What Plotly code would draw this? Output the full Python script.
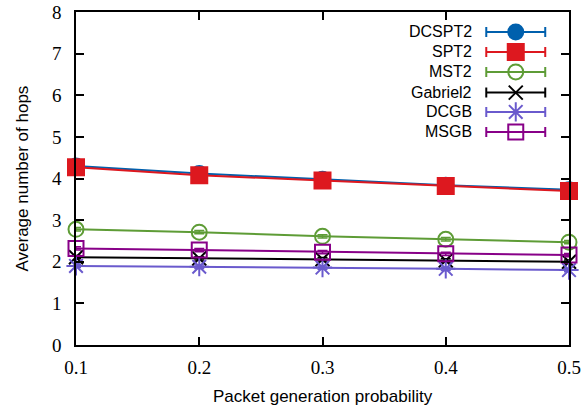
import plotly.graph_objects as go

x_vals = [0.1, 0.2, 0.3, 0.4, 0.5]
series_names = ["DCSPT2", "SPT2", "MST2", "Gabriel2", "DCGB", "MSGB"]
dcspt2 = [4.30, 4.12, 3.98, 3.84, 3.73]
spt2 = [4.27, 4.08, 3.95, 3.82, 3.70]
mst2 = [2.78, 2.71, 2.61, 2.54, 2.47]
gabriel2 = [2.11, 2.08, 2.06, 2.03, 2.00]
dcgb = [1.90, 1.88, 1.86, 1.83, 1.80]
msgb = [2.32, 2.28, 2.23, 2.19, 2.16]
err = [0.04, 0.04, 0.04, 0.04, 0.04]
x_ticks = [0.1, 0.2, 0.3, 0.4, 0.5]
y_ticks = [0, 1, 2, 3, 4, 5, 6, 7, 8]

series_values = [dcspt2, spt2, mst2, gabriel2, dcgb, msgb]
colors = ["#0060ad", "#dd181f", "#5e9c36", "#000000", "#6a5acd", "#880088"]
symbols = ["circle", "square", "circle-open", "x-thin-open", "asterisk-open", "square-open"]
sizes = [15, 16, 15, 14, 16, 15]

fig = go.Figure()
for name, vals, c, s, sz in zip(series_names, series_values, colors, symbols, sizes):
    fig.add_trace(go.Scatter(
        x=x_vals, y=vals, mode="lines+markers", name=name,
        line=dict(color=c, width=2),
        marker=dict(symbol=s, size=sz, color=c, line=dict(color=c, width=2)),
        error_y=dict(type="data", array=err, color=c, thickness=1.5, width=5),
        showlegend=False, cliponaxis=False,
    ))

# gnuplot-style key drawn on an overlay axis (0..1 in plot-area units)
row_y = [0.940, 0.880, 0.820, 0.758, 0.700, 0.640]
for i, (name, c, s, sz) in enumerate(zip(series_names, colors, symbols, sizes)):
    fig.add_trace(go.Scatter(
        x=[0.892], y=[row_y[i]], xaxis="x2", yaxis="y2", mode="markers",
        marker=dict(symbol=s, size=sz, color=c, line=dict(color=c, width=2)),
        error_x=dict(type="data", array=[0.0598], color=c, thickness=2, width=5),
        showlegend=False, hoverinfo="skip",
    ))
    fig.add_annotation(x=0.807, y=row_y[i], xref="x2", yref="y2", text=name,
                       showarrow=False, xanchor="right", yanchor="middle",
                       font=dict(family="Liberation Sans", size=16, color="black"))

fig.add_annotation(x=-0.1095, y=0.5, xref="paper", yref="paper",
                   text="Average number of hops", textangle=-90, showarrow=False,
                   xanchor="center", yanchor="middle",
                   font=dict(family="Liberation Sans", size=17, color="black"))
fig.add_annotation(x=0.5, y=-0.156, xref="paper", yref="paper",
                   text="Packet generation probability", showarrow=False,
                   xanchor="center", yanchor="middle",
                   font=dict(family="Liberation Sans", size=17, color="black"))

axis_common = dict(showline=True, linecolor="black", linewidth=1.5, mirror="ticks",
                   ticks="inside", ticklen=8, tickwidth=1.5, tickcolor="black",
                   showgrid=False, zeroline=False, automargin=False,
                   ticklabeloverflow="allow",
                   tickfont=dict(family="Liberation Serif", size=19, color="black"))

fig.update_layout(
    width=587, height=409,
    margin=dict(l=76, r=18, t=12, b=64),
    plot_bgcolor="white", paper_bgcolor="white",
    xaxis=dict(range=[0.1, 0.5], tickvals=x_ticks, ticktext=[str(t) for t in x_ticks],
               ticklabelstandoff=4, **axis_common),
    yaxis=dict(range=[0, 8], tickvals=y_ticks, ticktext=[str(t) for t in y_ticks],
               ticklabelstandoff=9, **axis_common),
    xaxis2=dict(range=[0, 1], overlaying="x", visible=False),
    yaxis2=dict(range=[0, 1], overlaying="y", visible=False),
)

fig.write_html("out.html", config={"displayModeBar": False},
               post_script="document.body.style.margin='0';document.body.style.overflow='hidden';")
